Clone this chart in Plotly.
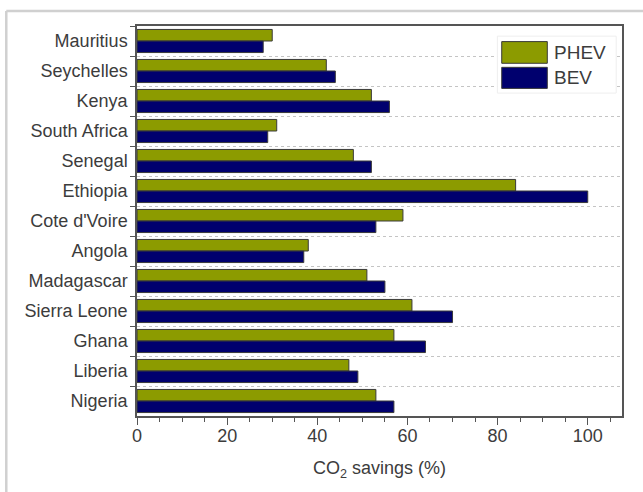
import plotly.graph_objects as go

countries = ["Mauritius", "Seychelles", "Kenya", "South Africa", "Senegal", "Ethiopia",
             "Cote d'Voire", "Angola", "Madagascar", "Sierra Leone", "Ghana", "Liberia", "Nigeria"]
phev = [30, 42, 52, 31, 48, 84, 59, 38, 51, 61, 57, 47, 53]
bev = [28, 44, 56, 29, 52, 100, 53, 37, 55, 70, 64, 49, 57]
series_names = ["PHEV", "BEV"]
series_colors = ["#8C9B00", "#00006E"]

FONT = "Liberation Sans, Arial, sans-serif"
TXT = "#3c3c3c"

fig = go.Figure()
for name, vals, col in zip(series_names, [phev, bev], series_colors):
    fig.add_trace(go.Bar(
        y=countries, x=vals, name=name, orientation="h",
        marker=dict(color=col, line=dict(color="#3a3a3a", width=1)),
        showlegend=False,
    ))

fig.update_layout(
    width=643, height=492,
    margin=dict(l=137, r=21, t=26, b=76),
    paper_bgcolor="white", plot_bgcolor="white",
    barmode="group", bargap=0.23, bargroupgap=0,
    font=dict(family=FONT, size=18, color=TXT),
)
fig.update_yaxes(
    type="category", autorange="reversed",
    tickson="boundaries", ticks="outside", ticklen=5, tickcolor="#555",
    showgrid=True, gridcolor="#c4c4c4", griddash="dot", gridwidth=1,
    showline=True, linecolor="#555", linewidth=1.5, mirror=True,
    tickfont=dict(size=18, color=TXT), ticklabelstandoff=4,
)
fig.update_xaxes(
    range=[0, 107.6], dtick=20, tick0=0,
    ticks="outside", ticklen=7, tickcolor="#555",
    minor=dict(dtick=5, ticks="outside", ticklen=4, tickcolor="#555", showgrid=False),
    showgrid=False, zeroline=False,
    showline=True, linecolor="#555", linewidth=1.5, mirror=True,
    tickfont=dict(size=18, color=TXT), ticklabelstandoff=-4,
    title=dict(text="CO<sub>2</sub> savings (%)", font=dict(size=18, color=TXT), standoff=16),
)

# outer frame (top and left)
fig.add_shape(type="line", xref="paper", yref="paper", x0=-0.2695, x1=1.05, y0=1.0385, y1=1.0385,
              line=dict(color="#d0d0d0", width=2.5))
fig.add_shape(type="line", xref="paper", yref="paper", x0=-0.2695, x1=-0.2695, y0=1.0385, y1=-0.2,
              line=dict(color="#d0d0d0", width=2.5))

# legend box
fig.add_shape(type="rect", xref="paper", yref="paper", x0=0.743, x1=0.988, y0=0.828, y1=0.974,
              fillcolor="white", line=dict(color="#eeeeee", width=1), layer="above")
sw_y = [(0.9044, 0.960), (0.840, 0.894)]
for (y0, y1), name, col in zip(sw_y, series_names, series_colors):
    fig.add_shape(type="rect", xref="paper", yref="paper", x0=0.752, x1=0.846, y0=y0, y1=y1,
                  fillcolor=col, line=dict(color="#3a3a3a", width=1), layer="above")
    fig.add_annotation(xref="paper", yref="paper", x=0.855, y=(y0 + y1) / 2, text=name,
                       showarrow=False, xanchor="left", yanchor="middle",
                       font=dict(size=19, color=TXT, family=FONT))

fig.write_html("out.html")
